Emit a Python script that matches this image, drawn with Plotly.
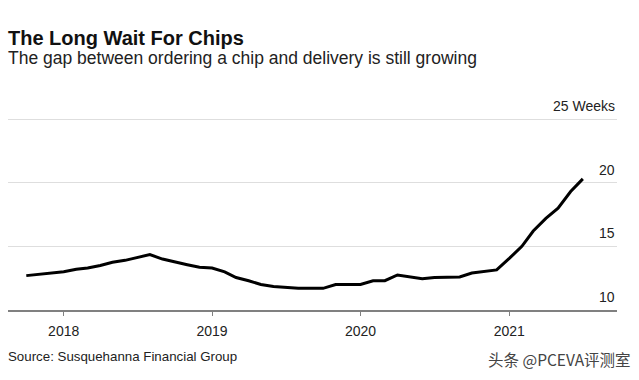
import plotly.graph_objects as go
import pandas as pd

months = pd.date_range("2017-10-01", "2021-07-01", freq="MS")
lead_time_weeks = [
    12.7, 12.8, 12.95,
    13.0, 13.2, 13.3, 13.5, 13.75, 13.9, 14.15, 14.35, 14.0, 13.75, 13.55, 13.35,
    13.3, 13.0, 12.55, 12.3, 12.0, 11.85, 11.75, 11.7, 11.7, 11.7, 12.0, 12.0,
    12.0, 12.3, 12.3, 12.75, 12.6, 12.45, 12.55, 12.6, 12.6, 12.9, 13.0, 13.15,
    14.05, 15.0, 16.2, 17.2, 18.0, 19.3, 20.3,
]
y_tick_vals = [10, 15, 20, 25]
y_tick_text = ["10", "15", "20", "25 Weeks"]

FONT = "Liberation Sans, Arial, sans-serif"

fig = go.Figure()
fig.add_trace(go.Scatter(
    x=months, y=lead_time_weeks, mode="lines",
    line=dict(color="#000000", width=3),
    hoverinfo="skip", showlegend=False,
))

annotations = []
for v, t in zip(y_tick_vals, y_tick_text):
    annotations.append(dict(
        x=1, xref="paper", y=v, yref="y", xanchor="right", yanchor="bottom",
        text=t, showarrow=False, yshift=3,
        font=dict(family=FONT, size=14, color="#222222"),
    ))

annotations += [
    dict(x=0, xref="paper", y=1, yref="paper", xanchor="left", yanchor="bottom",
         text="<b>The Long Wait For Chips</b>", showarrow=False, xshift=-2, yshift=54,
         font=dict(family=FONT, size=20, color="#111111")),
    dict(x=0, xref="paper", y=1, yref="paper", xanchor="left", yanchor="bottom",
         text="The gap between ordering a chip and delivery is still growing", showarrow=False,
         xshift=-2, yshift=35, font=dict(family=FONT, size=17.5, color="#222222")),
    dict(x=0, xref="paper", y=0, yref="paper", xanchor="left", yanchor="top",
         text="Source: Susquehanna Financial Group", showarrow=False, xshift=-2, yshift=-37,
         font=dict(family=FONT, size=13.3, color="#222222")),
    dict(x=1, xref="paper", y=0, yref="paper", xanchor="right", yanchor="top",
         text="头条 @PCEVA评测室", showarrow=False, xshift=16, yshift=-36,
         font=dict(family="Noto Sans CJK SC, sans-serif", size=15.5, color="#444444")),
]

fig.update_layout(
    width=639, height=380,
    margin=dict(l=8, r=22, t=105, b=70, autoexpand=False),
    paper_bgcolor="white", plot_bgcolor="white",
    annotations=annotations,
    xaxis=dict(
        type="date",
        range=["2017-08-17", "2021-09-23"],
        tick0="2018-01-01", dtick="M12", tickformat="%Y",
        showgrid=False, zeroline=False,
        showline=True, linecolor="#808080", linewidth=2,
        ticks="outside", ticklen=4, tickcolor="#808080", tickwidth=1,
        ticklabelstandoff=3,
        tickfont=dict(family=FONT, size=14, color="#222222"),
        fixedrange=True,
    ),
    yaxis=dict(
        range=[10, 26.1], tickvals=y_tick_vals, showticklabels=False,
        showgrid=True, gridcolor="#dedede", gridwidth=1,
        zeroline=False, showline=False, fixedrange=True,
    ),
)

fig.write_html("out.html", config={"displayModeBar": False},
               post_script="document.body.style.margin='0';")
